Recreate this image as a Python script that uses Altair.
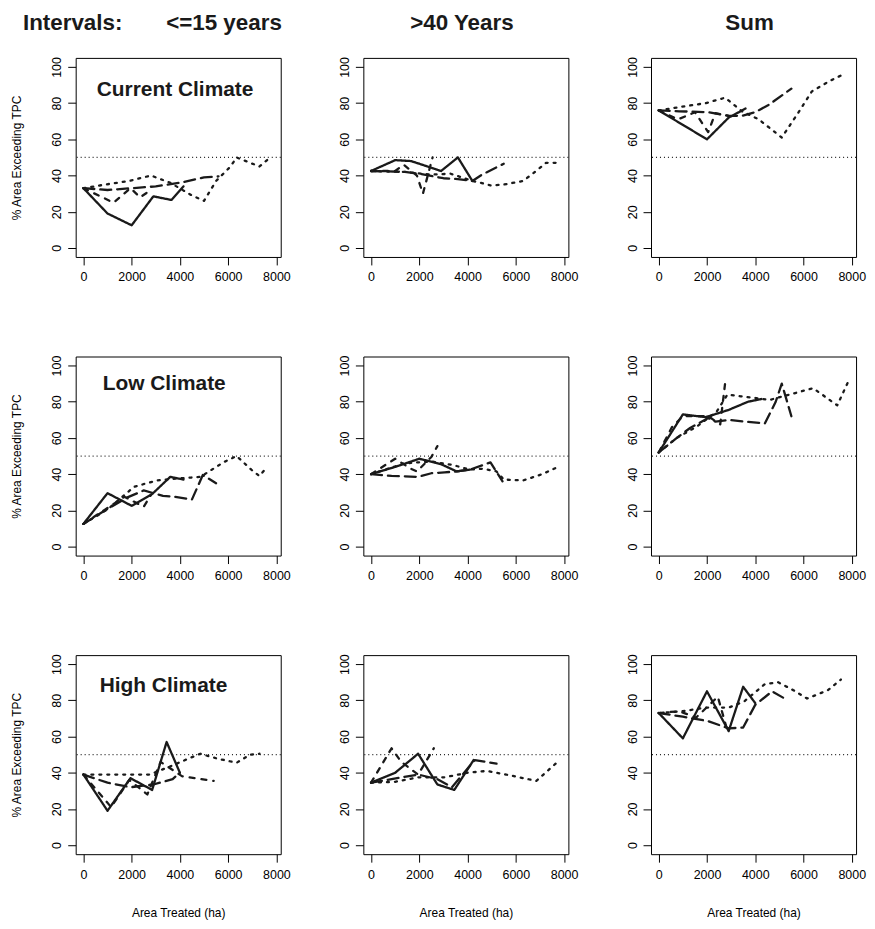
import altair as alt
import pandas as pd

# ---------------- data ----------------
ROWS = ["Current Climate", "Low Climate", "High Climate"]
COLS = ["<=15 years", ">40 Years", "Sum"]
SERIES = ["solid", "longdash", "dashed", "dotted"]
X_TICKS = [0, 2000, 4000, 6000, 8000]
Y_TICKS = [0, 20, 40, 60, 80, 100]

# Current climate, <=15 years
c15_solid_x = [0, 1000, 2000, 2900, 3650, 4150]
c15_solid_y = [33, 19, 12.5, 28.5, 26.5, 34]
c15_long_x = [0, 1000, 2000, 3000, 4000, 5000, 5600]
c15_long_y = [33, 32, 33, 34, 36, 39, 39.5]
c15_dash_x = [0, 1250, 1950, 2350, 2800]
c15_dash_y = [33, 25, 33, 28, 32]
c15_dot_x = [0, 900, 1900, 2800, 3600, 4500, 5000, 5500, 6100, 6350, 7300, 7700]
c15_dot_y = [33, 35, 37, 40, 36, 29, 26, 37, 45, 50, 45, 49.5]

# Current climate, >40 years
c40_solid_x = [0, 1000, 1650, 2000, 2900, 3600, 4200]
c40_solid_y = [42.5, 48.5, 48, 46.5, 42.5, 50, 37]
c40_long_x = [0, 1400, 2000, 3000, 3600, 4200, 4600, 5500]
c40_long_y = [42.5, 42, 41, 38.5, 38, 37, 40.5, 46.5]
c40_dash_x = [0, 1000, 1350, 1900, 2150, 2550]
c40_dash_y = [42.5, 42.5, 46, 40, 30, 50]
c40_dot_x = [0, 1400, 2500, 3300, 4200, 4550, 4950, 5500, 6300, 6700, 7250, 7700]
c40_dot_y = [42.5, 42, 40.5, 41, 37, 36, 34.5, 35, 37, 41, 47, 47]

# Current climate, Sum
cs_solid_x = [0, 2000, 2900, 3600]
cs_solid_y = [76, 60, 72, 77]
cs_long_x = [0, 850, 2050, 2900, 3450, 4000, 4550, 5500]
cs_long_y = [76, 75.5, 75, 73, 73, 75, 79, 88]
cs_dash_x = [0, 800, 1500, 2050, 2350, 2900]
cs_dash_y = [76, 71, 75, 64, 74.5, 73]
cs_dot_x = [0, 950, 1950, 2750, 3450, 4150, 5100, 5800, 6350, 7050, 7750]
cs_dot_y = [76, 78, 80, 83, 75.5, 71, 61, 75, 86.5, 92, 96.5]

# Low climate, <=15 years
l15_solid_x = [0, 1000, 2000, 2850, 3600, 4150]
l15_solid_y = [12.5, 29.5, 22.5, 29, 38.5, 37]
l15_long_x = [0, 900, 1800, 2500, 3300, 3800, 4500, 4950, 5500]
l15_long_y = [12.5, 20, 27, 31, 28, 27.5, 26, 39.5, 35]
l15_dash_x = [0, 850, 1700, 2500, 2800]
l15_dash_y = [12.5, 20, 27.5, 22, 28.5]
l15_dot_x = [0, 1000, 2100, 3050, 3850, 4850, 5800, 6350, 7000, 7300, 7550]
l15_dot_y = [12.5, 20.5, 33, 36.5, 37.5, 38.5, 46.5, 50, 42, 39, 43]

# Low climate, >40 years
l40_solid_x = [0, 1000, 2000, 2900, 3550, 4100]
l40_solid_y = [40, 44, 48.5, 45.5, 41.5, 42.5]
l40_long_x = [0, 850, 1950, 2500, 3050, 3550, 4100, 4950, 5450]
l40_long_y = [40, 39, 38.5, 40.5, 41, 41.5, 42.5, 46.5, 36]
l40_dash_x = [0, 1000, 1650, 1900, 2500, 2750]
l40_dash_y = [40, 48.5, 43, 41.5, 49.5, 55.5]
l40_dot_x = [0, 1400, 2500, 3400, 4100, 4650, 5200, 5500, 6300, 7100, 7750]
l40_dot_y = [40, 46, 47, 45, 42.5, 43, 41.5, 37, 36.5, 40, 44]

# Low climate, Sum
ls_solid_x = [0, 1000, 1950, 2900, 3700, 4250]
ls_solid_y = [52, 73, 71.5, 75.5, 80, 81.5]
ls_long_x = [0, 750, 1300, 2050, 2350, 2900, 3600, 4400, 4850, 5100, 5500]
ls_long_y = [52, 60, 65.5, 71, 69, 70, 69, 68, 80, 90, 72]
ls_dash_x = [0, 550, 1000, 2050, 2550, 2750]
ls_dash_y = [52, 66, 72, 72, 67.5, 90]
ls_dot_x = [0, 750, 1600, 2400, 2850, 3400, 4050, 4600, 5150, 5850, 6400, 7400, 7850]
ls_dot_y = [52, 60, 66.5, 74.5, 84, 83, 82, 81, 83, 85.5, 87.5, 78, 91]

# High climate, <=15 years
h15_solid_x = [0, 1000, 1950, 2850, 3450, 4000]
h15_solid_y = [39, 19, 37, 30.5, 57, 40]
h15_long_x = [0, 1000, 1950, 2900, 3700, 4000]
h15_long_y = [39, 34.5, 32, 33.5, 36.5, 40]
h15_dash_x = [0, 1150, 1900, 2650, 3200, 4100, 5400]
h15_dash_y = [39, 21, 36, 28, 46, 38, 35.5]
h15_dot_x = [0, 1000, 1950, 2750, 3600, 4300, 4850, 5500, 6350, 6900, 7300]
h15_dot_y = [39, 39, 39, 39, 43.5, 47.5, 50.5, 48, 45.5, 50, 50.5]

# High climate, >40 years
h40_solid_x = [0, 1000, 1950, 2750, 3450, 4250]
h40_solid_y = [34.5, 40, 50.5, 33.5, 30.5, 47]
h40_long_x = [0, 850, 1950, 2750, 3350, 4300, 5200]
h40_long_y = [34.5, 36.5, 39, 36.5, 32, 47, 45]
h40_dash_x = [0, 850, 1250, 1950, 2600]
h40_dash_y = [34.5, 53.5, 46, 39, 53.5]
h40_dot_x = [0, 1000, 1950, 3050, 4000, 4800, 5600, 6850, 7650]
h40_dot_y = [34.5, 35, 37.5, 37.5, 40, 41, 39, 35.5, 45]

# High climate, Sum
hs_solid_x = [0, 1000, 2000, 2900, 3500, 4000]
hs_solid_y = [73, 59, 85, 63, 87.5, 78.5]
hs_long_x = [0, 1000, 2050, 2900, 3500, 4000, 4700, 5350]
hs_long_y = [73, 71, 68.5, 64.5, 65, 77.5, 85, 80]
hs_dash_x = [0, 850, 1550, 2450, 2850]
hs_dash_y = [73, 74, 70.5, 82, 63]
hs_dot_x = [0, 1000, 1950, 2900, 3550, 4400, 4950, 5600, 6150, 7000, 7550]
hs_dot_y = [73, 74, 76, 76, 79.5, 89, 90, 85.5, 81, 85.5, 91.5]

# panel label positions (data coordinates of the climate labels)
LABEL_X = [3800, 3350, 3320]
LABEL_Y = [87, 90, 88]

PANEL_DATA = {
    (0, 0): [(c15_solid_x, c15_solid_y), (c15_long_x, c15_long_y), (c15_dash_x, c15_dash_y), (c15_dot_x, c15_dot_y)],
    (0, 1): [(c40_solid_x, c40_solid_y), (c40_long_x, c40_long_y), (c40_dash_x, c40_dash_y), (c40_dot_x, c40_dot_y)],
    (0, 2): [(cs_solid_x, cs_solid_y), (cs_long_x, cs_long_y), (cs_dash_x, cs_dash_y), (cs_dot_x, cs_dot_y)],
    (1, 0): [(l15_solid_x, l15_solid_y), (l15_long_x, l15_long_y), (l15_dash_x, l15_dash_y), (l15_dot_x, l15_dot_y)],
    (1, 1): [(l40_solid_x, l40_solid_y), (l40_long_x, l40_long_y), (l40_dash_x, l40_dash_y), (l40_dot_x, l40_dot_y)],
    (1, 2): [(ls_solid_x, ls_solid_y), (ls_long_x, ls_long_y), (ls_dash_x, ls_dash_y), (ls_dot_x, ls_dot_y)],
    (2, 0): [(h15_solid_x, h15_solid_y), (h15_long_x, h15_long_y), (h15_dash_x, h15_dash_y), (h15_dot_x, h15_dot_y)],
    (2, 1): [(h40_solid_x, h40_solid_y), (h40_long_x, h40_long_y), (h40_dash_x, h40_dash_y), (h40_dot_x, h40_dot_y)],
    (2, 2): [(hs_solid_x, hs_solid_y), (hs_long_x, hs_long_y), (hs_dash_x, hs_dash_y), (hs_dot_x, hs_dot_y)],
}

# ---------------- chart ----------------
FONT = "Liberation Sans"
W, H = 206, 200
LINE_COLOR = "#1a1a1a"
DASHES = [[1, 0], [11, 6], [5, 7], [2, 6]]

x_scale = alt.Scale(domain=[-320, 8180], nice=False, zero=False)
y_scale = alt.Scale(domain=[-5, 105], nice=False, zero=False)


def panel(r, c):
    recs = []
    for s, (xs, ys) in zip(SERIES, PANEL_DATA[(r, c)]):
        for i, (xv, yv) in enumerate(zip(xs, ys)):
            recs.append({"series": s, "x": xv, "y": yv, "i": i})
    d = pd.DataFrame(recs)

    x_axis = alt.Axis(values=X_TICKS, format="d", title="Area Treated (ha)" if r == 2 else None)
    y_axis = alt.Axis(values=Y_TICKS, format="d", title="% Area Exceeding TPC" if c == 0 else None)

    rule = alt.Chart(pd.DataFrame({"v": [50]})).mark_rule(
        strokeDash=[1, 3], strokeWidth=1.2, color="#222"
    ).encode(y=alt.Y("v:Q", scale=y_scale, axis=y_axis))

    lines = alt.Chart(d).mark_line(
        strokeWidth=2.3, color=LINE_COLOR, strokeCap="round", strokeJoin="round", clip=True
    ).encode(
        x=alt.X("x:Q", scale=x_scale, axis=x_axis),
        y=alt.Y("y:Q", scale=y_scale, axis=y_axis),
        strokeDash=alt.StrokeDash("series:N", scale=alt.Scale(domain=SERIES, range=DASHES), legend=None),
        order="i:Q",
    )
    layers = [rule, lines]

    if c == 0:
        lab = alt.Chart(pd.DataFrame({"x": [LABEL_X[r]], "y": [LABEL_Y[r]], "t": [ROWS[r]]})).mark_text(
            font=FONT, fontSize=21, fontWeight="bold", color="#1a1a1a", align="center", baseline="middle"
        ).encode(
            x=alt.X("x:Q", scale=x_scale, axis=x_axis),
            y=alt.Y("y:Q", scale=y_scale, axis=y_axis),
            text="t:N",
        )
        layers.append(lab)

    if r == 0:
        one = pd.DataFrame({"k": [0]})
        hdr_style = dict(font=FONT, fontSize=22.5, fontWeight="bold", color="#1a1a1a", baseline="alphabetic")
        if c == 0:
            layers.append(alt.Chart(one).mark_text(align="left", **hdr_style).encode(
                x=alt.value(-53), y=alt.value(-28), text=alt.value("Intervals:")))
            layers.append(alt.Chart(one).mark_text(align="center", **hdr_style).encode(
                x=alt.value(149), y=alt.value(-28), text=alt.value(COLS[0])))
        else:
            layers.append(alt.Chart(one).mark_text(align="center", **hdr_style).encode(
                x=alt.value(99), y=alt.value(-28), text=alt.value(COLS[c])))

    return alt.layer(*layers).properties(width=W, height=H)


panels = [panel(r, c) for r in range(3) for c in range(3)]

chart = alt.concat(
    *panels, columns=3, spacing={"row": 100, "column": 83}, bounds="flush"
).properties(
    padding={"left": 2, "top": 1, "right": 0, "bottom": 0}
).configure_view(
    stroke="black", strokeWidth=1
).configure_axis(
    domain=False, grid=False, ticks=True, tickColor="black", tickSize=8, tickWidth=1,
    labelFont=FONT, labelFontSize=12.5, labelColor="black", labelOverlap=False, labelFlush=False,
    titleFont=FONT, titleFontSize=12, titleFontWeight="normal", titleColor="black",
).configure_axisY(
    labelAngle=270, labelAlign="center", labelBaseline="bottom", labelPadding=4, titlePadding=27,
).configure_axisX(
    labelPadding=6, titlePadding=27,
)

chart.save("out.html", embed_options={"renderer": "svg", "actions": False})
